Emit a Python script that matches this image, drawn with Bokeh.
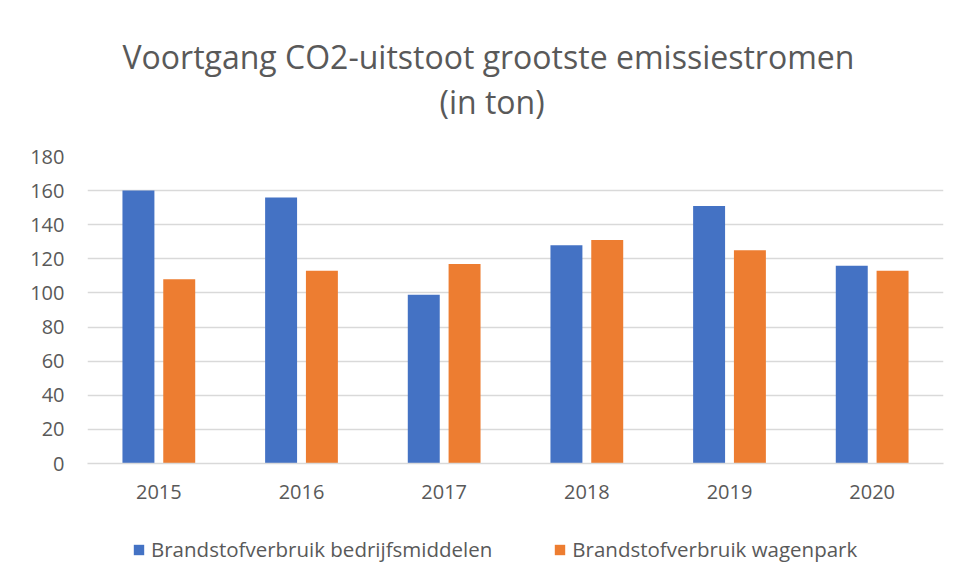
from bokeh.plotting import figure
from bokeh.models import FactorRange, Range1d, Legend, LegendItem, FixedTicker, Title
from bokeh.transform import dodge
from bokeh.models import ColumnDataSource
from bokeh.layouts import column
from bokeh.embed import file_html
from bokeh.resources import INLINE

years = ["2015", "2016", "2017", "2018", "2019", "2020"]
bedrijfsmiddelen = [160, 156, 99, 128, 151, 116]
wagenpark = [108, 113, 117, 131, 125, 113]
series_names = ["Brandstofverbruik bedrijfsmiddelen", "Brandstofverbruik wagenpark"]
y_ticks = [0, 20, 40, 60, 80, 100, 120, 140, 160, 180]
title_lines = ["Voortgang CO2-uitstoot grootste emissiestromen", "(in ton)"]

BLUE = "#4472C4"
ORANGE = "#ED7D31"
TEXT = "#595959"
GRID = "#D9D9D9"
FONT = "Open Sans"

src = ColumnDataSource(dict(year=years, a=bedrijfsmiddelen, b=wagenpark))

p = figure(frame_width=856, frame_height=307, title=None,
           x_range=FactorRange(*years, range_padding=0),
           y_range=Range1d(0, 180), output_backend="svg", toolbar_location=None,
           min_border_left=87, min_border_right=17, min_border_top=156, min_border_bottom=67)
p.outline_line_color = None
p.background_fill_color = "white"
p.border_fill_color = "white"

bar_kw = dict(width=0.224, source=src, line_color=None)
r1 = p.vbar(x=dodge("year", -0.143, range=p.x_range), top="a", fill_color=BLUE, **bar_kw)
r2 = p.vbar(x=dodge("year", 0.143, range=p.x_range), top="b", fill_color=ORANGE, **bar_kw)

p.xgrid.grid_line_color = None
p.ygrid.grid_line_color = GRID
p.ygrid.grid_line_width = 1.3
p.yaxis.ticker = FixedTicker(ticks=y_ticks)

p.yaxis.axis_line_color = None
p.yaxis.major_tick_line_color = None
p.yaxis.minor_tick_line_color = None
p.yaxis.major_tick_out = 0
p.yaxis.major_label_standoff = 23
p.yaxis.major_label_text_font = FONT
p.yaxis.major_label_text_font_size = "20px"
p.yaxis.major_label_text_color = TEXT

p.xaxis.axis_line_color = GRID
p.xaxis.axis_line_width = 1.3
p.xaxis.major_tick_line_color = None
p.xaxis.minor_tick_line_color = None
p.xaxis.major_tick_out = 0
p.xaxis.major_label_standoff = 21
p.xaxis.major_label_text_font = FONT
p.xaxis.major_label_text_font_size = "20px"
p.xaxis.major_label_text_color = TEXT

# spacer between frame and title lines
p.add_layout(Title(text=" ", text_font_size="16px", standoff=15), "above")
p.add_layout(Title(text=title_lines[1], align="left", offset=352, standoff=0,
                   text_font=FONT, text_font_size="32px", text_font_style="normal",
                   text_color=TEXT), "above")
p.add_layout(Title(text=title_lines[0], align="left", offset=35, standoff=0,
                   text_font=FONT, text_font_size="32px", text_font_style="normal",
                   text_color=TEXT), "above")

# legend strip below the chart (same series, drawn out of view, used as legend keys)
p2 = figure(width=960, height=49, x_range=p.x_range, y_range=Range1d(200, 201),
            x_axis_type=None, y_axis_type=None, output_backend="svg", toolbar_location=None,
            min_border_left=0, min_border_right=0, min_border_top=0, min_border_bottom=0,
            title=None)
p2.outline_line_color = None
p2.grid.visible = False
p2.background_fill_color = "white"
p2.border_fill_color = "white"
k1 = p2.vbar(x=dodge("year", -0.143, range=p.x_range), top="a", fill_color=BLUE, **bar_kw)
k2 = p2.vbar(x=dodge("year", 0.143, range=p.x_range), top="b", fill_color=ORANGE, **bar_kw)

legend = Legend(items=[LegendItem(label=series_names[0], renderers=[k1]),
                       LegendItem(label=series_names[1], renderers=[k2])],
                orientation="horizontal", location=(45, 16),
                glyph_width=13, glyph_height=13, label_standoff=6, spacing=61,
                label_text_font=FONT, label_text_font_size="20.5px", label_text_color=TEXT,
                border_line_color=None, background_fill_alpha=0, margin=0, padding=0)
p2.add_layout(legend)

layout = column(p, p2, spacing=0)
open("out.html", "w").write(file_html(layout, INLINE))
